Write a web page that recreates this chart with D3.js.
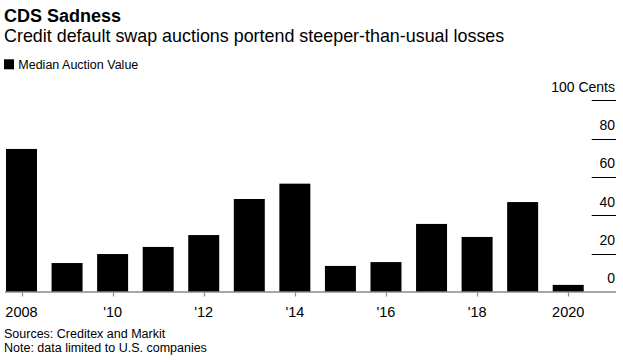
<!DOCTYPE html>
<html>
<head>
<meta charset="utf-8">
<script src="https://cdn.jsdelivr.net/npm/d3@7/dist/d3.min.js"></script>
<style>
  html, body { margin: 0; padding: 0; background: #fff; }
  svg { display: block; font-family: "Liberation Sans", Arial, Helvetica, sans-serif; }
</style>
</head>
<body>
<svg id="chart" width="623" height="362"></svg>
<script>
// ---- data ----
const years = [2008, 2009, 2010, 2011, 2012, 2013, 2014, 2015, 2016, 2017, 2018, 2019, 2020];
const medianAuctionValue = [74.6, 15.1, 19.8, 23.5, 29.7, 48.5, 56.5, 13.6, 15.6, 35.5, 28.7, 46.9, 3.7];
const yTicks = [0, 20, 40, 60, 80, 100];
const yTickLabels = ["0", "20", "40", "60", "80", "100 Cents"];
const xTickYears = [2008, 2010, 2012, 2014, 2016, 2018, 2020];
const xTickLabels = ["2008", "'10", "'12", "'14", "'16", "'18", "2020"];
const title = "CDS Sadness";
const subtitle = "Credit default swap auctions portend steeper-than-usual losses";
const legendLabel = "Median Auction Value";
const footnotes = ["Sources: Creditex and Markit", "Note: data limited to U.S. companies"];

// ---- layout ----
const svg = d3.select("#chart");
const baseY = 292, topY = 100.25;
const axisRight = 616;

const x = d3.scaleBand()
  .domain(years)
  .range([-1.28, 591])
  .paddingInner(0.32)
  .paddingOuter(0.16);

const y = d3.scaleLinear().domain([0, 100]).range([baseY, topY]);

// header
svg.append("text").attr("x", 4).attr("y", 22.3)
  .attr("font-size", 18).attr("font-weight", "bold").attr("fill", "#000")
  .text(title);
svg.append("text").attr("x", 4).attr("y", 41.7)
  .attr("font-size", 17.9).attr("fill", "#000")
  .text(subtitle);

// legend
svg.append("rect").attr("x", 4).attr("y", 59.3).attr("width", 10).attr("height", 10).attr("fill", "#000");
svg.append("text").attr("x", 18.3).attr("y", 69.3)
  .attr("font-size", 12.5).attr("fill", "#000")
  .text(legendLabel);

// y grid ticks (short lines at right) + labels
const yg = svg.append("g");
yg.selectAll("line.grid")
  .data(yTicks.filter(d => d !== 0))
  .join("line")
  .attr("class", "grid")
  .attr("x1", 591.7).attr("x2", axisRight)
  .attr("y1", d => Math.round(y(d)) + 0.5).attr("y2", d => Math.round(y(d)) + 0.5)
  .attr("stroke", "#000").attr("stroke-width", 1);
yg.selectAll("text")
  .data(yTicks)
  .join("text")
  .attr("x", axisRight - 1)
  .attr("y", d => y(d) - 8.7)
  .attr("text-anchor", "end")
  .attr("font-size", 14)
  .attr("fill", "#000")
  .text((d, i) => yTickLabels[i]);

// bars
svg.append("g").selectAll("rect")
  .data(years.map((yr, i) => ({ yr, v: medianAuctionValue[i] })))
  .join("rect")
  .attr("x", d => x(d.yr))
  .attr("width", x.bandwidth())
  .attr("y", d => y(d.v))
  .attr("height", d => baseY - y(d.v))
  .attr("fill", "#000");

// baseline
svg.append("line")
  .attr("x1", 5).attr("x2", axisRight)
  .attr("y1", baseY).attr("y2", baseY)
  .attr("stroke", "#8a8a8a").attr("stroke-width", 1.6);

// x ticks + labels
const xg = svg.append("g");
xg.selectAll("line")
  .data(xTickYears)
  .join("line")
  .attr("x1", d => Math.round(x(d) + x.bandwidth() / 2) + 0.5)
  .attr("x2", d => Math.round(x(d) + x.bandwidth() / 2) + 0.5)
  .attr("y1", baseY).attr("y2", baseY + 4.5)
  .attr("stroke", "#8a8a8a").attr("stroke-width", 1.2);
xg.selectAll("text")
  .data(xTickYears)
  .join("text")
  .attr("x", d => x(d) + x.bandwidth() / 2)
  .attr("y", 316.7)
  .attr("text-anchor", "middle")
  .attr("font-size", 14.5)
  .attr("fill", "#000")
  .text((d, i) => xTickLabels[i]);

// footnotes
svg.append("g").selectAll("text")
  .data(footnotes)
  .join("text")
  .attr("x", 4)
  .attr("y", (d, i) => 338.2 + i * 14.1)
  .attr("font-size", 12.5)
  .attr("fill", "#000")
  .text(d => d);
</script>
</body>
</html>
